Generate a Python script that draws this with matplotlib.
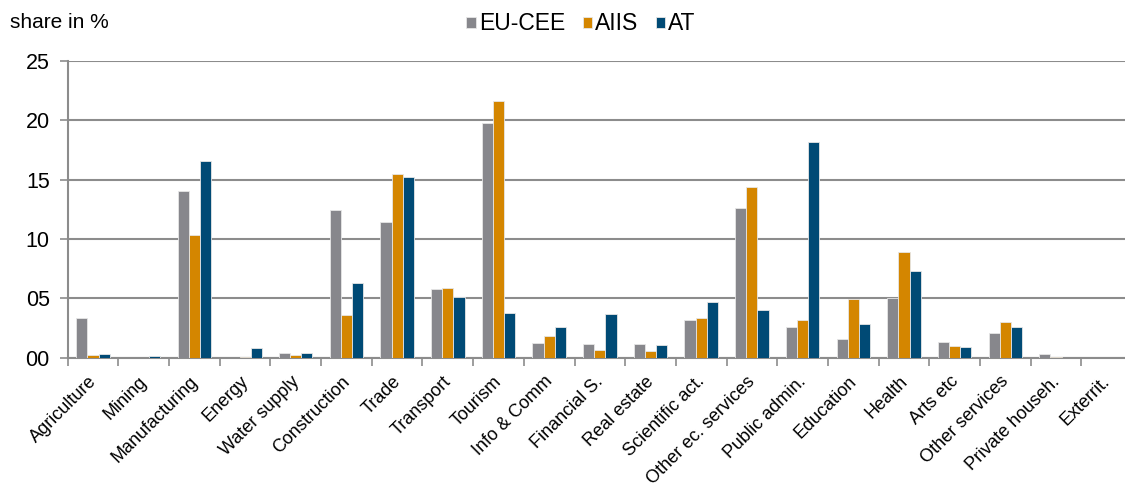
import numpy as np
import matplotlib
matplotlib.use("Agg")
import matplotlib.pyplot as plt
from matplotlib.ticker import FormatStrFormatter

plt.rcParams['font.family'] = ['Liberation Sans', 'DejaVu Sans']

categories = ["Agriculture", "Mining", "Manufacturing", "Energy", "Water supply",
              "Construction", "Trade", "Transport", "Tourism", "Info & Comm",
              "Financial S.", "Real estate", "Scientific act.", "Other ec. services",
              "Public admin.", "Education", "Health", "Arts etc", "Other services",
              "Private househ.", "Exterrit."]

eu_cee = [3.35, 0.0, 14.05, 0.0, 0.40, 12.47, 11.43, 5.80, 19.80, 1.26,
          1.15, 1.15, 3.15, 12.60, 2.56, 1.55, 5.03, 1.32, 2.06, 0.31, 0.0]
aiis = [0.25, 0.0, 10.32, 0.05, 0.20, 3.60, 15.52, 5.87, 21.65, 1.83,
        0.67, 0.56, 3.37, 14.36, 3.18, 4.95, 8.90, 0.96, 2.98, 0.08, 0.0]
at = [0.34, 0.14, 16.60, 0.84, 0.40, 6.32, 15.25, 5.09, 3.74, 2.59,
      3.66, 1.10, 4.72, 4.04, 18.15, 2.81, 7.30, 0.93, 2.59, 0.0, 0.0]

series = [("EU-CEE", eu_cee, "#87878c"),
          ("AIIS", aiis, "#d48600"),
          ("AT", at, "#004a75")]

W, H = 1125, 486
fig = plt.figure(figsize=(W / 100, H / 100), dpi=100)
ax = fig.add_axes([67.7 / W, 1 - 357.7 / H, (1132 - 67.7) / W, (357.7 - 61) / H])

x = np.arange(len(categories))
bw = 0.22
for i, (name, vals, col) in enumerate(series):
    ax.bar(x + (i - 1) * bw, vals, width=bw, color=col, label=name,
           edgecolor="#e6e6e6", linewidth=0.6, zorder=3)

ax.set_xlim(-0.5, len(categories) - 0.5)
ax.set_ylim(0, 25)
ax.set_yticks([0, 5, 10, 15, 20, 25])
ax.yaxis.set_major_formatter(FormatStrFormatter('%02d'))
ax.yaxis.grid(True, color="#8c8c8c", linewidth=1.5, zorder=0)
ax.set_axisbelow(True)

# category boundaries carry the tick marks; labels sit just left of each centre
ax.set_xticks(np.arange(len(categories) + 1) - 0.5, minor=False)
ax.set_xticklabels([])
ax.set_xticks(x - 0.1, minor=True)
ax.set_xticklabels(categories, minor=True, rotation=45, ha="right",
                   rotation_mode="anchor", fontsize=13)
ax.tick_params(axis="x", which="major", length=6, width=1.2, color="#8c8c8c",
               direction="out")
ax.tick_params(axis="x", which="minor", length=0, pad=11)
ax.tick_params(axis="y", length=6, width=1.2, color="#8c8c8c", labelsize=15.5,
               pad=7)

for s in ["top", "right"]:
    ax.spines[s].set_visible(False)
for s in ["left", "bottom"]:
    ax.spines[s].set_color("#8c8c8c")
    ax.spines[s].set_linewidth(1.5)

fig.text(10 / W, 1 - 22 / H, "share in %", fontsize=15, va="center", ha="left")

fig.legend(loc="center", bbox_to_anchor=(581 / W, 1 - 24 / H), ncol=3,
           frameon=False, fontsize=16.5, handlelength=0.4, handleheight=0.4,
           handletextpad=0.15, columnspacing=0.75)

fig.savefig("out.png", dpi=100)
